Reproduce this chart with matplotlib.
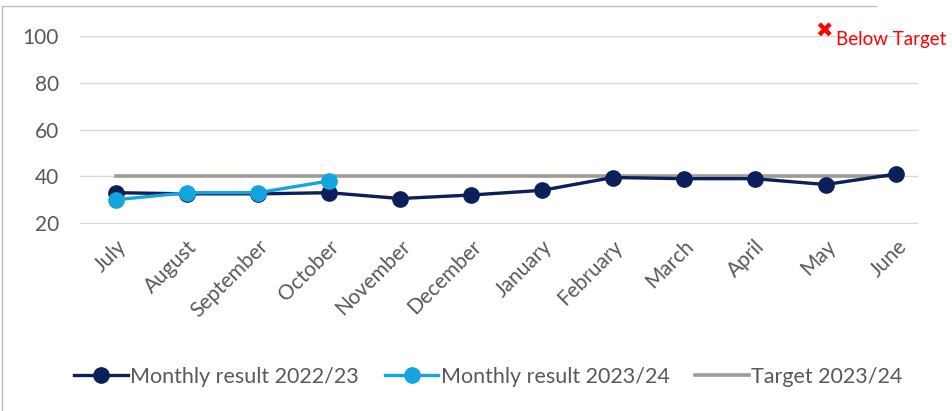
import matplotlib
matplotlib.use("Agg")
import matplotlib.pyplot as plt

months = ['July', 'August', 'September', 'October', 'November', 'December',
          'January', 'February', 'March', 'April', 'May', 'June']
result_2223 = [33, 32.5, 32.5, 33, 30.5, 32, 34, 39.5, 39, 39, 36.5, 41]
result_2324 = [30, 33, 33, 38]
target_2324 = [40] * 12

plt.rcParams['font.family'] = ['Lato', 'DejaVu Sans']

fig = plt.figure(figsize=(9.52, 4.11), dpi=100)
ax = fig.add_axes([0.084, 0.455, 0.88, 0.457])

x = list(range(len(months)))
ax.plot(x, result_2223, color='#0b1f5a', lw=2.4, marker='o', ms=11,
        label='Monthly result 2022/23', zorder=3)
ax.plot(x[:len(result_2324)], result_2324, color='#14a5de', lw=2.4, marker='o', ms=11,
        label='Monthly result 2023/24', zorder=4)
ax.plot(x, target_2324, color='#a19a93', lw=2.6, label='Target 2023/24', zorder=2)

ax.set_ylim(19.6, 100)
ax.set_yticks([20, 40, 60, 80, 100])
ax.set_xlim(-0.51, 11.3)
ax.set_xticks(x)
ax.set_xticklabels(months, rotation=45, ha='right', rotation_mode='anchor')
ax.tick_params(axis='both', length=0, labelsize=15, labelcolor='#595959')
ax.tick_params(axis='x', pad=9)
ax.tick_params(axis='y', pad=15)
ax.grid(axis='y', color='#d9d9d9', lw=1)
ax.set_axisbelow(True)
for s in ax.spines.values():
    s.set_visible(False)

fig.text(0.865, 0.923, '\u2716', color='#ff0000', fontsize=15, family='DejaVu Sans',
         ha='center', va='center')
fig.text(0.878, 0.905, 'Below Target', color='#ff0000', fontsize=13.5, va='center')

fig.legend(loc='center', bbox_to_anchor=(0.513, 0.083), ncol=3, frameon=False,
           fontsize=15.5, labelcolor='#595959', handlelength=2.5, columnspacing=1.2,
           handletextpad=0.1)

# frame lines at top/left
fig.add_artist(plt.Line2D([0.002, 0.002], [0, 0.985], color='#bfbfbf', lw=1))
fig.add_artist(plt.Line2D([0.002, 0.92], [0.985, 0.985], color='#bfbfbf', lw=1))

plt.savefig('out.png', dpi=100)
plt.close()
